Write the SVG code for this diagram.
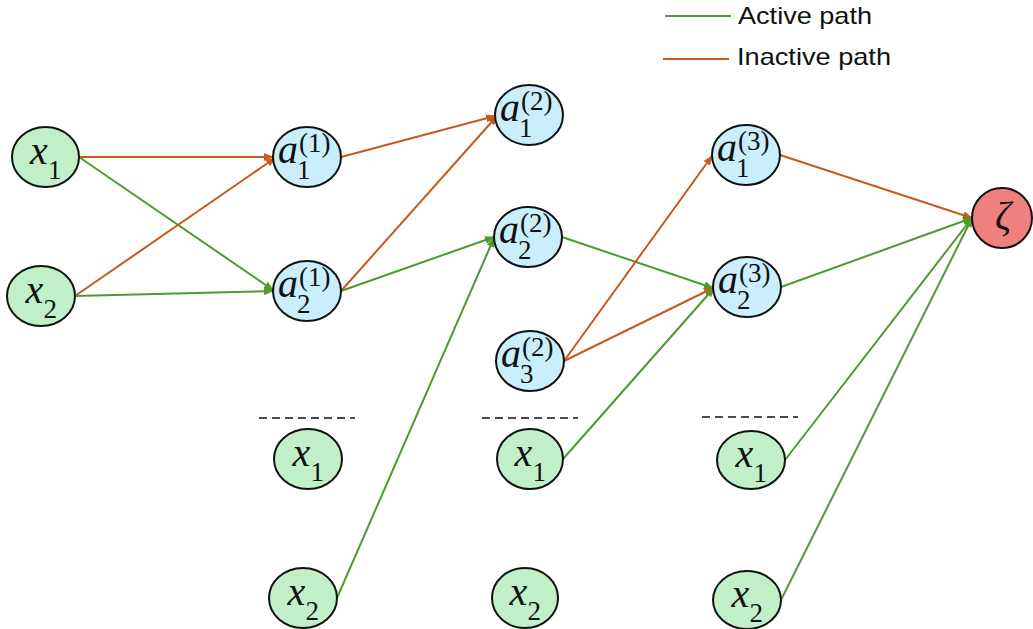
<svg xmlns="http://www.w3.org/2000/svg" width="1033" height="629" viewBox="0 0 1033 629">
<defs>
<style>
.n{stroke:#111;stroke-width:2}
.g{fill:#C1F0C8}
.b{fill:#CAEEFB}
.r{fill:#F08080}
.m{font-family:"Liberation Serif","DejaVu Serif",serif;font-style:italic;font-size:40px;fill:#111}
.s{font-family:"Liberation Serif","DejaVu Serif",serif;font-size:27px;fill:#111}
.ea{stroke:#4E9A2E;stroke-width:2;fill:none}
.ei{stroke:#C65A1E;stroke-width:2;fill:none}
.ea.h{marker-end:url(#mg)}
.ei.h{marker-end:url(#mo)}
.lg{font-family:"Liberation Sans",Arial,sans-serif;font-size:24px;fill:#111}
.dash{stroke:#111;stroke-width:1.6;stroke-dasharray:8 5}
</style>
<marker id="mg" markerWidth="10" markerHeight="8" refX="9" refY="4" orient="auto" markerUnits="userSpaceOnUse"><path d="M0,0 L10,4 L0,8 Z" fill="#4E9A2E"/></marker>
<marker id="mo" markerWidth="10" markerHeight="8" refX="9" refY="4" orient="auto" markerUnits="userSpaceOnUse"><path d="M0,0 L10,4 L0,8 Z" fill="#C65A1E"/></marker>
</defs>

<g id="legend">
<line class="ea" x1="665" y1="16" x2="731" y2="16"/>
<text class="lg" x="738" y="24" textLength="134" lengthAdjust="spacingAndGlyphs">Active path</text>
<line class="ei" x1="663" y1="59" x2="729" y2="59"/>
<text class="lg" x="737" y="65" textLength="154" lengthAdjust="spacingAndGlyphs">Inactive path</text>
</g>

<g id="connectors">
<line class="ei h" x1="79" y1="157" x2="273" y2="157"/>
<line class="ea h" x1="79" y1="157" x2="273" y2="290"/>
<line class="ei h" x1="75" y1="296" x2="275" y2="158"/>
<line class="ea h" x1="75" y1="296" x2="273" y2="291"/>
<line class="ei h" x1="341" y1="157" x2="495" y2="116"/>
<line class="ei h" x1="341" y1="291" x2="497" y2="116"/>
<line class="ea h" x1="341" y1="291" x2="494" y2="237"/>
<line class="ea h" x1="337" y1="598" x2="494" y2="238"/>
<line class="ea h" x1="562" y1="237" x2="713" y2="288"/>
<line class="ei h" x1="564" y1="361" x2="712" y2="156"/>
<line class="ei h" x1="564" y1="361" x2="713" y2="288"/>
<line class="ea h" x1="563" y1="459" x2="714" y2="288"/>
<line class="ei h" x1="780" y1="155" x2="972" y2="218"/>
<line class="ea h" x1="781" y1="287" x2="972" y2="218"/>
<line class="ea h" x1="785" y1="460" x2="972" y2="218"/>
<line class="ea h" x1="781" y1="600" x2="972" y2="218"/>
</g>

<g id="separators">
<line class="dash" x1="259" y1="418" x2="355" y2="418"/>
<line class="dash" x1="482" y1="418" x2="578" y2="418"/>
<line class="dash" x1="702" y1="417" x2="798" y2="417"/>
</g>

<g id="x1_in"><ellipse class="n g" cx="45.5" cy="157" rx="33.5" ry="30"/><text class="m" x="30" y="164">x</text><text class="s" x="48" y="179">1</text></g>
<g id="x2_in"><ellipse class="n g" cx="41" cy="296" rx="34" ry="30"/><text class="m" x="25.5" y="303">x</text><text class="s" x="43.5" y="318">2</text></g>

<g id="a1_1"><ellipse class="n b" cx="307" cy="157" rx="34" ry="30"/><text class="m" x="278" y="163">a</text><text class="s" x="297" y="179">1</text><text class="s" x="299" y="152">(1)</text></g>
<g id="a2_1"><ellipse class="n b" cx="307" cy="291" rx="34" ry="30"/><text class="m" x="278" y="297">a</text><text class="s" x="297" y="313">2</text><text class="s" x="299" y="286">(1)</text></g>

<g id="a1_2"><ellipse class="n b" cx="529" cy="115" rx="34" ry="30"/><text class="m" x="500" y="121">a</text><text class="s" x="519" y="137">1</text><text class="s" x="521" y="110">(2)</text></g>
<g id="a2_2"><ellipse class="n b" cx="528" cy="237" rx="34" ry="30"/><text class="m" x="499" y="243">a</text><text class="s" x="518" y="259">2</text><text class="s" x="520" y="232">(2)</text></g>
<g id="a3_2"><ellipse class="n b" cx="530" cy="361" rx="34" ry="30"/><text class="m" x="501" y="367">a</text><text class="s" x="520" y="383">3</text><text class="s" x="522" y="356">(2)</text></g>

<g id="a1_3"><ellipse class="n b" cx="746" cy="155" rx="34" ry="30"/><text class="m" x="717" y="161">a</text><text class="s" x="736" y="177">1</text><text class="s" x="738" y="150">(3)</text></g>
<g id="a2_3"><ellipse class="n b" cx="747" cy="287" rx="34" ry="30"/><text class="m" x="718" y="293">a</text><text class="s" x="737" y="309">2</text><text class="s" x="739" y="282">(3)</text></g>

<g id="zeta"><ellipse class="n r" cx="1002" cy="218" rx="30" ry="30"/><text class="m" x="1003" y="229" text-anchor="middle">ζ</text></g>

<g id="x1_c2"><ellipse class="n g" cx="308" cy="459" rx="34" ry="30"/><text class="m" x="292.5" y="466">x</text><text class="s" x="310.5" y="481">1</text></g>
<g id="x2_c2"><ellipse class="n g" cx="303" cy="598" rx="34" ry="30"/><text class="m" x="287.5" y="605">x</text><text class="s" x="305.5" y="620">2</text></g>
<g id="x1_c3"><ellipse class="n g" cx="530" cy="459" rx="33" ry="30"/><text class="m" x="514.5" y="466">x</text><text class="s" x="532.5" y="481">1</text></g>
<g id="x2_c3"><ellipse class="n g" cx="525" cy="598" rx="33" ry="30"/><text class="m" x="509.5" y="605">x</text><text class="s" x="527.5" y="620">2</text></g>
<g id="x1_c4"><ellipse class="n g" cx="751" cy="460" rx="34" ry="29"/><text class="m" x="735.5" y="467">x</text><text class="s" x="753.5" y="482">1</text></g>
<g id="x2_c4"><ellipse class="n g" cx="747" cy="600" rx="34" ry="29"/><text class="m" x="731.5" y="607">x</text><text class="s" x="749.5" y="622">2</text></g>
</svg>
